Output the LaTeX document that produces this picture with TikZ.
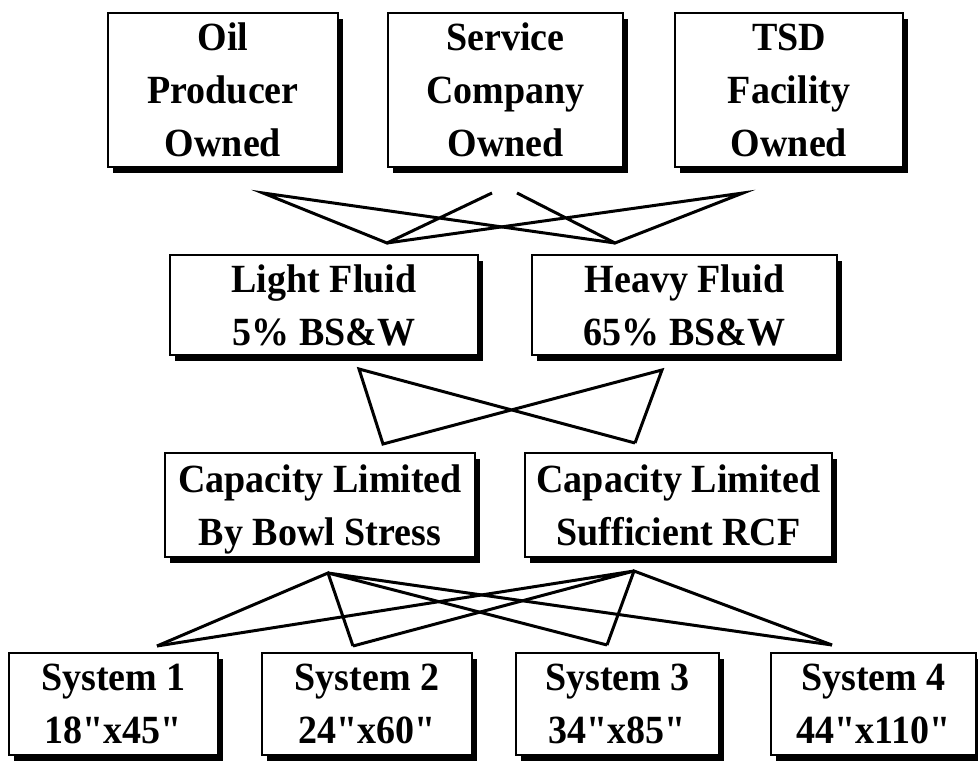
\documentclass[tikz,border=0pt]{standalone}
\usepackage{fontspec}
\setmainfont[UprightFont={* Bold}, FakeStretch=0.95]{Liberation Serif}
\newfontfamily\quotefont[UprightFont={* Bold}, FakeStretch=0.95]{Liberation Serif}
\usetikzlibrary{shadows}
\newcommand{\inch}{{\quotefont\symbol{34}}}
\tikzset{
  box/.style={draw=black, line width=2.4pt, fill=white, inner sep=0pt, align=center,
    font=\fontsize{40}{53}\selectfont, text depth=0pt,
    drop shadow={shadow xshift=5pt, shadow yshift=-6pt, fill=black, opacity=1}},
  link/.style={line width=3pt, line join=miter}
}
\begin{document}
\begin{tikzpicture}[x=1pt,y=-1pt]
\useasboundingbox[fill=white] (0,0) rectangle (978,762);
% top row
\node[box, minimum width=230pt, minimum height=154pt] (oil) at (223,90) {Oil\\Producer\\Owned};
\node[box, minimum width=235pt, minimum height=154pt] (svc) at (505.5,90) {Service\\Company\\Owned};
\node[box, minimum width=228pt, minimum height=154pt] (tsd) at (789,90) {TSD\\Facility\\Owned};
% fluid row
\node[box, minimum width=308pt, minimum height=100pt] (light) at (324,305) {Light Fluid\\5\% BS\&W};
\node[box, minimum width=305pt, minimum height=100pt] (heavy) at (684.5,305) {Heavy Fluid\\65\% BS\&W};
% capacity row
\node[box, minimum width=310pt, minimum height=104pt] (capa) at (320,505) {Capacity Limited\\By Bowl Stress};
\node[box, minimum width=307pt, minimum height=104pt] (capb) at (678.5,505) {Capacity Limited\\Sufficient RCF};
% systems row
\node[box, minimum width=209pt, minimum height=102pt] (s1) at (113.5,704) {System 1\\18\inch x45\inch};
\node[box, minimum width=210pt, minimum height=102pt] (s2) at (367,704) {System 2\\24\inch x60\inch};
\node[box, minimum width=203pt, minimum height=102pt] (s3) at (617.5,704) {System 3\\34\inch x85\inch};
\node[box, minimum width=205pt, minimum height=102pt] (s4) at (873.5,704) {System 4\\44\inch x110\inch};
% connector end points
\coordinate (a1) at (263,193);
\coordinate (a2) at (492,193);
\coordinate (a3) at (517,193);
\coordinate (a4) at (743,193);
\coordinate (b1) at (387,243);
\coordinate (b2) at (615,243);
\coordinate (c1) at (359,369);
\coordinate (c2) at (662,370);
\coordinate (d1) at (383,444);
\coordinate (d2) at (635,443);
\coordinate (e1) at (328,573);
\coordinate (e2) at (634,571);
\coordinate (f1) at (157,646);
\coordinate (f2) at (353,646);
\coordinate (f3) at (607,645);
\coordinate (f4) at (832,645);
% connectors top -> fluids
\draw[link] (b2) -- (a1) -- (b1) -- (a2);
\draw[link] (a3) -- (b2) -- (a4) -- (b1);
% fluids -> capacity
\draw[link] (d2) -- (c1) -- (d1) -- (c2) -- (d2);
% capacity -> systems
\draw[link] (f1) -- (e1) -- (f2);
\draw[link] (f3) -- (e1) -- (f4);
\draw[link] (f1) -- (e2) -- (f2);
\draw[link] (f3) -- (e2) -- (f4);
\end{tikzpicture}
\end{document}
